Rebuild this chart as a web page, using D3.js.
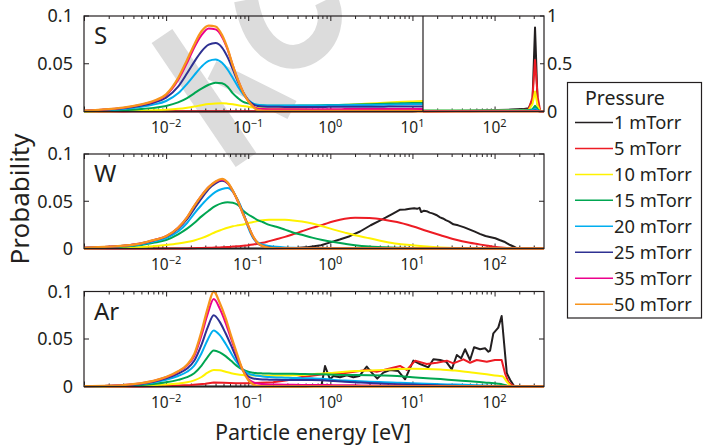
<!DOCTYPE html>
<html>
<head>
<meta charset="utf-8">
<script src="https://cdn.jsdelivr.net/npm/d3@7"></script>
<style>
  body { margin: 0; background: #fff; }
  text { font-family: "Noto Sans", sans-serif; fill: #231f20; }
</style>
</head>
<body>
<svg id="chart" width="703" height="446"></svg>
<script>
// ---- data ----
var pressures = ["1 mTorr", "5 mTorr", "10 mTorr", "15 mTorr", "20 mTorr", "25 mTorr", "35 mTorr", "50 mTorr"];
var colors    = ["#231f20", "#ed1c24", "#fff200", "#00a651", "#00aeef", "#2e3192", "#ec008c", "#f7941d"];
var panelNames = ["S", "W", "Ar"];
var xTickPowers = [-2, -1, 0, 1, 2];
var yTicks = [0, 0.05, 0.1];
var yTicksInset = [0, 0.5, 1];

// S (sputtered sulfur) energy grid, eV
var s_energy = [0.001, 0.002, 0.003, 0.005, 0.007, 0.01, 0.014, 0.018, 0.022, 0.027, 0.033, 0.04, 0.048, 0.056, 0.065, 0.075, 0.087, 0.1, 0.115, 0.13, 0.15, 0.18, 0.22, 0.28, 0.35, 0.45, 0.6, 0.8, 1.1, 1.5, 2, 3, 4.5, 6.5, 10, 15, 22, 33, 50, 75, 110, 160, 220, 260, 290, 311, 335, 360, 400];
var s_black   = [0, 0, 0, 0, 0, 0, 0, 0, 0, 0, 0, 0, 0, 0, 0, 0, 0, 0, 0, 0, 0, 0, 0, 0, 0, 0, 0, 0, 0, 0, 0, 0, 0, 0, 0, 0.002, 0.004, 0.006, 0.009, 0.012, 0.016, 0.02, 0.025, 0.035, 0.12, 0.88, 0.07, 0.002, 0];
var s_red     = [0, 0.0001, 0.0001, 0.0002, 0.0002, 0.0003, 0.0003, 0.0003, 0.0003, 0.0003, 0.0003, 0.0003, 0.0003, 0.0003, 0.0003, 0.0003, 0.0003, 0.0003, 0.0003, 0.0003, 0.0003, 0.0003, 0.0003, 0.0003, 0.0003, 0.0003, 0.0003, 0.0003, 0.0003, 0.0003, 0.0003, 0.0003, 0.0003, 0.0003, 0.0003, 0.0004, 0.001, 0.002, 0.003, 0.005, 0.008, 0.011, 0.015, 0.02, 0.15, 0.54, 0.15, 0.005, 0];
var s_yellow  = [0.0001, 0.0003, 0.0005, 0.0008, 0.0012, 0.0018, 0.0028, 0.004, 0.0052, 0.0066, 0.0078, 0.0085, 0.0086, 0.0082, 0.0075, 0.0066, 0.0058, 0.005, 0.0043, 0.0038, 0.0034, 0.003, 0.003, 0.0032, 0.0035, 0.004, 0.0046, 0.0053, 0.006, 0.0067, 0.0074, 0.0083, 0.0092, 0.0099, 0.0105, 0.011, 0.011, 0.011, 0.011, 0.011, 0.011, 0.012, 0.013, 0.015, 0.08, 0.21, 0.06, 0.002, 0];
var s_green   = [0.0003, 0.0009, 0.0014, 0.0026, 0.0038, 0.0058, 0.0095, 0.014, 0.019, 0.024, 0.028, 0.0302, 0.0295, 0.026, 0.019, 0.014, 0.010, 0.0085, 0.0075, 0.0068, 0.0063, 0.006, 0.006, 0.006, 0.0061, 0.0062, 0.0064, 0.0066, 0.0068, 0.007, 0.0073, 0.0077, 0.0081, 0.0085, 0.0089, 0.009, 0.009, 0.009, 0.009, 0.009, 0.009, 0.0095, 0.01, 0.012, 0.025, 0.06, 0.025, 0, 0];
var s_cyan    = [0.0006, 0.0017, 0.0027, 0.005, 0.0072, 0.011, 0.019, 0.029, 0.038, 0.047, 0.053, 0.0545, 0.051, 0.044, 0.035, 0.026, 0.018, 0.012, 0.0085, 0.007, 0.0065, 0.0063, 0.0062, 0.0062, 0.0062, 0.0062, 0.0063, 0.0064, 0.0065, 0.0066, 0.0067, 0.0069, 0.0071, 0.0073, 0.0075, 0.0076, 0.0076, 0.0076, 0.0076, 0.0076, 0.0076, 0.0078, 0.008, 0.009, 0.012, 0.03, 0.012, 0, 0];
var s_blue    = [0.0007, 0.0021, 0.0034, 0.0063, 0.0092, 0.0145, 0.026, 0.040, 0.052, 0.063, 0.070, 0.0718, 0.067, 0.057, 0.044, 0.031, 0.020, 0.012, 0.0075, 0.0058, 0.0052, 0.005, 0.0049, 0.0048, 0.0048, 0.0048, 0.0048, 0.0048, 0.0049, 0.0049, 0.005, 0.005, 0.0051, 0.0052, 0.0052, 0.0053, 0.0053, 0.0053, 0.0053, 0.0053, 0.0053, 0.0054, 0.0055, 0.0056, 0.006, 0.012, 0.006, 0, 0];
var s_magenta = [0.0008, 0.0024, 0.0038, 0.0072, 0.0105, 0.017, 0.033, 0.051, 0.067, 0.080, 0.087, 0.086, 0.078, 0.065, 0.048, 0.033, 0.020, 0.011, 0.0055, 0.003, 0.0025, 0.0024, 0.0024, 0.0024, 0.0024, 0.0024, 0.0024, 0.0024, 0.0024, 0.0025, 0.0025, 0.0025, 0.0025, 0.0025, 0.0025, 0.0025, 0.0025, 0.0025, 0.0025, 0.0025, 0.0025, 0.0025, 0.0025, 0.0025, 0.003, 0.006, 0.003, 0, 0];
var s_orange  = [0.0008, 0.0025, 0.004, 0.0075, 0.011, 0.018, 0.035, 0.054, 0.070, 0.084, 0.090, 0.089, 0.080, 0.066, 0.048, 0.033, 0.020, 0.011, 0.005, 0.0015, 0.0008, 0.0005, 0.0005, 0.0005, 0.0005, 0.0005, 0.0005, 0.0005, 0.0005, 0.0005, 0.0005, 0.0005, 0.0005, 0.0005, 0.0005, 0, 0, 0, 0, 0, 0, 0, 0, 0, 0, 0, 0, 0, 0];

// W energy grid, eV
var w_energy = [0.001, 0.002, 0.003, 0.005, 0.007, 0.01, 0.014, 0.018, 0.022, 0.027, 0.033, 0.04, 0.048, 0.056, 0.065, 0.075, 0.087, 0.1, 0.115, 0.13, 0.15, 0.18, 0.22, 0.28, 0.35, 0.45, 0.6, 0.8, 1.1, 1.5, 2, 3, 4.5, 6.5, 10, 15, 22, 33, 50, 75, 110, 160, 240, 400];
var w_black_energy = [0.001, 0.2, 0.35, 0.5, 0.77, 1.0, 1.3, 1.72, 2.3, 3.1, 3.9, 4.7, 5.8, 7.0, 8.2, 9.3, 10.5, 11.4, 12.2, 12.8, 13.8, 14.9, 16.2, 17.5, 19.5, 21.7, 23.5, 25.5, 28, 31.5, 36, 42.8, 50, 57.5, 66, 77.5, 90, 102, 115, 131, 142, 155, 178, 190, 400];
var w_black   = [0, 0, 0.0002, 0.0012, 0.0035, 0.0065, 0.0095, 0.013, 0.018, 0.0246, 0.029, 0.0326, 0.037, 0.041, 0.0412, 0.042, 0.0425, 0.042, 0.043, 0.0386, 0.040, 0.0395, 0.038, 0.0372, 0.0355, 0.033, 0.0318, 0.030, 0.0285, 0.0256, 0.0245, 0.0224, 0.020, 0.0178, 0.0155, 0.0132, 0.012, 0.0108, 0.009, 0.0072, 0.0055, 0.0037, 0.0013, 0, 0];
var w_red     = [0, 0, 0, 0, 0, 0, 0, 0.0001, 0.0003, 0.0005, 0.0007, 0.001, 0.0013, 0.0016, 0.002, 0.0024, 0.003, 0.0035, 0.0042, 0.005, 0.006, 0.0078, 0.0098, 0.0123, 0.015, 0.0182, 0.0218, 0.025, 0.0288, 0.0315, 0.0326, 0.0322, 0.0305, 0.028, 0.0235, 0.0185, 0.014, 0.0095, 0.006, 0.0035, 0.0013, 0.0003, 0, 0];
var w_yellow  = [0.0002, 0.0005, 0.0009, 0.0016, 0.0025, 0.0037, 0.0052, 0.0068, 0.0085, 0.011, 0.014, 0.0175, 0.020, 0.022, 0.0235, 0.0245, 0.0255, 0.027, 0.028, 0.029, 0.0298, 0.0303, 0.0305, 0.0303, 0.0297, 0.0285, 0.0265, 0.0235, 0.020, 0.0168, 0.014, 0.0108, 0.0075, 0.005, 0.0035, 0.002, 0.0011, 0.0005, 0.0002, 0.0001, 0, 0, 0, 0];
var w_green   = [0.0005, 0.0012, 0.002, 0.0037, 0.006, 0.009, 0.015, 0.021, 0.027, 0.034, 0.040, 0.045, 0.048, 0.049, 0.0485, 0.046, 0.040, 0.036, 0.033, 0.030, 0.028, 0.025, 0.023, 0.020, 0.017, 0.0145, 0.0115, 0.009, 0.0068, 0.005, 0.0035, 0.0021, 0.0013, 0.0008, 0.0004, 0.0002, 0.0001, 0, 0, 0, 0, 0, 0, 0];
var w_cyan    = [0.0006, 0.0016, 0.0026, 0.0046, 0.0072, 0.011, 0.018, 0.027, 0.037, 0.046, 0.054, 0.060, 0.063, 0.064, 0.060, 0.051, 0.038, 0.022, 0.011, 0.0065, 0.004, 0.0027, 0.0018, 0.0011, 0.0007, 0.0004, 0.0002, 0, 0, 0, 0, 0, 0, 0, 0, 0, 0, 0, 0, 0, 0, 0, 0, 0];
var w_blue    = [0.0007, 0.0018, 0.0029, 0.0053, 0.0085, 0.0125, 0.021, 0.031, 0.042, 0.053, 0.063, 0.069, 0.0716, 0.069, 0.061, 0.050, 0.037, 0.024, 0.012, 0.0055, 0.0025, 0.0012, 0.0006, 0.0003, 0, 0, 0, 0, 0, 0, 0, 0, 0, 0, 0, 0, 0, 0, 0, 0, 0, 0, 0, 0];
var w_magenta = [0.0007, 0.0019, 0.003, 0.0055, 0.0088, 0.013, 0.022, 0.033, 0.045, 0.056, 0.065, 0.0705, 0.0728, 0.0695, 0.0605, 0.0495, 0.0358, 0.0238, 0.0124, 0.006, 0.0025, 0.0006, 0.0001, 0, 0, 0, 0, 0, 0, 0, 0, 0, 0, 0, 0, 0, 0, 0, 0, 0, 0, 0, 0, 0];
var w_orange  = [0.0007, 0.0019, 0.003, 0.0055, 0.0088, 0.013, 0.022, 0.033, 0.045, 0.056, 0.065, 0.071, 0.0737, 0.070, 0.061, 0.050, 0.036, 0.024, 0.0125, 0.006, 0.0025, 0.0006, 0.0001, 0, 0, 0, 0, 0, 0, 0, 0, 0, 0, 0, 0, 0, 0, 0, 0, 0, 0, 0, 0, 0];

// Ar energy grid, eV
var ar_energy = [0.001, 0.002, 0.003, 0.005, 0.007, 0.01, 0.014, 0.018, 0.022, 0.027, 0.032, 0.038, 0.045, 0.053, 0.062, 0.072, 0.085, 0.1, 0.115, 0.13, 0.15, 0.18, 0.22, 0.28, 0.35, 0.45, 0.6, 0.8, 1.1, 1.5, 2, 3, 4.5, 6.5, 10, 15, 22, 33, 50, 75, 110, 125, 140, 160, 240, 400];
var ar_black_energy = [0.001, 0.5, 0.78, 0.862, 0.991, 1.088, 1.312, 1.585, 1.906, 2.255, 2.775, 3.19, 3.73, 4.42, 5.33, 6.73, 8.13, 10.26, 12.38, 15.63, 17.98, 21.7, 25.7, 30.1, 34.7, 39.1, 43.8, 50.3, 56.3, 66.6, 76.6, 84.1, 88.2, 96.7, 111, 122, 141, 155, 173, 190, 400];
var ar_black  = [0, 0, 0.001, 0.0216, 0.0076, 0.011, 0.0097, 0.0118, 0.0097, 0.011, 0.0209, 0.0146, 0.0083, 0.0146, 0.0174, 0.0163, 0.0076, 0.0272, 0.0237, 0.0202, 0.0286, 0.0279, 0.0261, 0.0181, 0.0332, 0.0297, 0.0392, 0.0279, 0.0413, 0.0392, 0.0402, 0.0366, 0.0377, 0.056, 0.062, 0.0742, 0.0139, 0.0068, 0.0005, 0, 0];
var ar_red_energy = [0.001, 0.005, 0.01, 0.02, 0.03, 0.038, 0.05, 0.07, 0.1, 0.2, 0.3, 0.43, 0.86, 1.44, 2.78, 3.67, 4.86, 7.06, 8.52, 10.8, 14.9, 19.8, 26.2, 31.5, 41.7, 50.3, 60.7, 80.4, 101, 122, 134, 147, 162, 175, 400];
var ar_red    = [0, 0.0001, 0.0004, 0.0015, 0.003, 0.0042, 0.004, 0.0035, 0.0035, 0.0045, 0.0065, 0.0097, 0.0132, 0.0139, 0.0174, 0.0156, 0.0181, 0.0216, 0.0174, 0.0272, 0.0237, 0.025, 0.0272, 0.0244, 0.0286, 0.025, 0.0279, 0.0261, 0.0279, 0.0279, 0.0139, 0.005, 0.0016, 0, 0];
var ar_yellow = [0, 0.0002, 0.0003, 0.0007, 0.0012, 0.002, 0.0032, 0.0045, 0.0065, 0.010, 0.0145, 0.0175, 0.017, 0.0155, 0.014, 0.013, 0.0122, 0.0118, 0.0116, 0.0115, 0.0114, 0.0113, 0.0113, 0.0115, 0.0118, 0.0121, 0.0128, 0.0138, 0.0146, 0.0155, 0.0162, 0.0168, 0.0175, 0.0183, 0.0188, 0.0185, 0.0178, 0.0168, 0.015, 0.0132, 0.0112, 0.0108, 0.0055, 0.0005, 0, 0];
var ar_green  = [0.0001, 0.0004, 0.0007, 0.0016, 0.0027, 0.0045, 0.007, 0.0098, 0.014, 0.022, 0.031, 0.038, 0.036, 0.032, 0.027, 0.022, 0.018, 0.0155, 0.0145, 0.014, 0.0138, 0.0136, 0.0135, 0.0134, 0.0133, 0.0132, 0.013, 0.0128, 0.0124, 0.0121, 0.012, 0.0118, 0.0115, 0.011, 0.0098, 0.0088, 0.0078, 0.0066, 0.0055, 0.0042, 0.003, 0.0022, 0.001, 0, 0, 0];
var ar_cyan   = [0.0002, 0.0006, 0.0011, 0.0025, 0.0042, 0.007, 0.011, 0.0155, 0.022, 0.035, 0.049, 0.059, 0.054, 0.045, 0.035, 0.026, 0.018, 0.0135, 0.012, 0.0112, 0.0105, 0.01, 0.0096, 0.0093, 0.009, 0.0088, 0.0086, 0.0082, 0.0069, 0.0062, 0.0057, 0.0051, 0.0045, 0.004, 0.0034, 0.0028, 0.0024, 0.002, 0.0015, 0.001, 0.0005, 0.0003, 0.0001, 0, 0, 0];
var ar_blue   = [0.0002, 0.0007, 0.0013, 0.003, 0.005, 0.0085, 0.0135, 0.019, 0.027, 0.044, 0.062, 0.075, 0.068, 0.056, 0.043, 0.030, 0.018, 0.0105, 0.0085, 0.0078, 0.0074, 0.0072, 0.007, 0.0069, 0.0068, 0.0068, 0.0068, 0.0066, 0.0058, 0.0051, 0.0045, 0.0036, 0.003, 0.0025, 0.002, 0.0015, 0.0011, 0.0007, 0.0004, 0.0002, 0.0001, 0, 0, 0, 0, 0];
var ar_magenta = [0.0003, 0.0008, 0.0015, 0.0035, 0.0058, 0.0097, 0.0155, 0.022, 0.032, 0.054, 0.076, 0.092, 0.082, 0.067, 0.050, 0.034, 0.018, 0.008, 0.0045, 0.0032, 0.0026, 0.0022, 0.002, 0.0019, 0.0018, 0.0017, 0.0016, 0.0015, 0.0014, 0.0013, 0.0012, 0.001, 0.0009, 0.0007, 0.0006, 0.0005, 0.0004, 0.0003, 0.0002, 0.0001, 0.0001, 0, 0, 0, 0, 0];
var ar_orange = [0.0003, 0.0008, 0.0015, 0.0036, 0.006, 0.010, 0.016, 0.023, 0.034, 0.058, 0.082, 0.100, 0.088, 0.072, 0.053, 0.036, 0.018, 0.0068, 0.0022, 0.0006, 0.0001, 0, 0, 0, 0, 0, 0, 0, 0, 0, 0, 0, 0, 0, 0, 0, 0, 0, 0, 0, 0, 0, 0, 0, 0, 0];

// ---- layout ----
var svg = d3.select("#chart");
var x = d3.scaleLog().domain([1e-3, 400]).range([84, 544]);
var xBreak = 423;   // left/right split of the S panel
var ink = "#231f20";

function zip(e, v) { return e.map(function (d, i) { return [d, v[i]]; }); }

var panels = [
  { top: 16, bottom: 111.5, series: [
      zip(s_energy, s_black), zip(s_energy, s_red), zip(s_energy, s_yellow), zip(s_energy, s_green),
      zip(s_energy, s_cyan), zip(s_energy, s_blue), zip(s_energy, s_magenta), zip(s_energy, s_orange)],
    jagged: [] },
  { top: 154, bottom: 248.5, series: [
      zip(w_black_energy, w_black), zip(w_energy, w_red), zip(w_energy, w_yellow), zip(w_energy, w_green),
      zip(w_energy, w_cyan), zip(w_energy, w_blue), zip(w_energy, w_magenta), zip(w_energy, w_orange)],
    jagged: [0] },
  { top: 291.5, bottom: 386.5, series: [
      zip(ar_black_energy, ar_black), zip(ar_red_energy, ar_red), zip(ar_energy, ar_yellow), zip(ar_energy, ar_green),
      zip(ar_energy, ar_cyan), zip(ar_energy, ar_blue), zip(ar_energy, ar_magenta), zip(ar_energy, ar_orange)],
    jagged: [0, 1] }
];

// faint grey watermark lying across the top panel
var wm = svg.append("g").attr("fill", "none").attr("stroke", "#d6d6d6").attr("opacity", 0.85);
wm.append("path").attr("d", "M162,36 L246,160").attr("stroke-width", 25);
wm.append("path").attr("d", "M212,70 L292,110").attr("stroke-width", 20);
wm.append("path").attr("d", "M246,0 C256,55 290,64 310,52 C330,40 334,16 326,0").attr("stroke-width", 24);

var majors = x.ticks().filter(function (d) { return Math.abs(Math.log10(d) - Math.round(Math.log10(d))) < 1e-9; });
var minors = x.ticks().filter(function (d) { return majors.indexOf(d) < 0; });
minors.push(200, 300);
minors = minors.filter(function (d, i, a) { return a.indexOf(d) === i && d < 400; });

function xTicks(g, yPos, inward) {
  var axis = inward > 0 ? d3.axisBottom : d3.axisTop;
  [[majors, 5], [minors, 3]].forEach(function (set) {
    g.append("g").attr("transform", "translate(0," + yPos + ")")
      .call(axis(x).tickValues(set[0]).tickSize(-set[1]).tickFormat(""))
      .call(function (a) { a.select(".domain").remove(); a.selectAll("line").attr("stroke", ink); });
  });
}

function expLabel(g, xp, yp, p) {
  var t = g.append("text").attr("x", xp).attr("y", yp).attr("text-anchor", "middle").style("font-size", "15.5px");
  t.append("tspan").text("10");
  t.append("tspan").attr("dy", -6.5).style("font-size", "11px").text(p < 0 ? "\u2212" + (-p) : String(p));
}

var line = d3.line().x(function (d) { return x(d[0]); });

panels.forEach(function (p, pi) {
  var g = svg.append("g");
  var y = d3.scaleLinear().domain([0, 0.1]).range([p.bottom, p.top]);

  // axes box and ticks
  xTicks(g, p.bottom, 1);
  xTicks(g, p.top, -1);
  var yRight = pi === 0 ? xBreak : 544;
  yTicks.forEach(function (v) {
    g.append("line").attr("x1", 84).attr("x2", 89).attr("y1", y(v)).attr("y2", y(v)).attr("stroke", ink);
    if (pi > 0) g.append("line").attr("x1", 539).attr("x2", 544).attr("y1", y(v)).attr("y2", y(v)).attr("stroke", ink);
    g.append("text").attr("x", 73).attr("y", y(v)).attr("dy", "0.36em").attr("text-anchor", "end")
      .style("font-size", "18px").text(v === 0 ? "0" : String(v));
  });
  xTickPowers.forEach(function (pw) { expLabel(g, x(Math.pow(10, pw)), p.bottom + 21.5, pw); });

  g.append("text").attr("x", 94).attr("y", p.top + 28).style("font-size", "24px").text(panelNames[pi]);

  // curves
  var clipId = "clip" + pi;
  var defs = svg.append("defs");
  defs.append("clipPath").attr("id", clipId).append("rect")
    .attr("x", 84).attr("y", p.top - 3).attr("width", yRight - 84).attr("height", p.bottom - p.top + 6);
  var cg = svg.append("g").attr("clip-path", "url(#" + clipId + ")");
  p.series.forEach(function (s, si) {
    var gen = line.y(function (d) { return y(d[1]); })
      .curve(p.jagged.indexOf(si) >= 0 ? d3.curveLinear : d3.curveMonotoneX);
    cg.append("path").attr("d", gen(s)).attr("fill", "none").attr("stroke", colors[si])
      .attr("stroke-width", si === 7 ? 2.3 : 2).attr("stroke-linejoin", "round");
  });

  // S panel: right part shares the energy axis, probability 0..1
  if (pi === 0) {
    var y2 = d3.scaleLinear().domain([0, 1]).range([p.bottom, p.top]);
    defs.append("clipPath").attr("id", "clipInset").append("rect")
      .attr("x", xBreak).attr("y", p.top - 3).attr("width", 544 - xBreak).attr("height", p.bottom - p.top + 6);
    var ig = svg.append("g").attr("clip-path", "url(#clipInset)");
    p.series.forEach(function (s, si) {
      var gen = line.y(function (d) { return y2(d[1]); }).curve(d3.curveLinear);
      ig.append("path").attr("d", gen(s)).attr("fill", "none").attr("stroke", colors[si])
        .attr("stroke-width", 2).attr("stroke-linejoin", "round");
    });
    yTicksInset.forEach(function (v) {
      svg.append("line").attr("x1", 540).attr("x2", 544).attr("y1", y2(v)).attr("y2", y2(v)).attr("stroke", ink);
      svg.append("text").attr("x", 547).attr("y", y2(v)).attr("dy", "0.36em")
        .style("font-size", "18px").text(String(v));
    });
    svg.append("line").attr("x1", xBreak).attr("x2", xBreak).attr("y1", p.top).attr("y2", p.bottom)
      .attr("stroke", ink).attr("stroke-width", 1.2);
  }

  svg.append("rect").attr("x", 84).attr("y", p.top).attr("width", 460).attr("height", p.bottom - p.top)
    .attr("fill", "none").attr("stroke", ink).attr("stroke-width", 1.2);
});

// axis titles
svg.append("text").attr("transform", "translate(29,199) rotate(-90)").attr("text-anchor", "middle")
  .style("font-size", "26px").text("Probability");
svg.append("text").attr("x", 313).attr("y", 440).attr("text-anchor", "middle")
  .style("font-size", "21.5px").text("Particle energy [eV]");

// legend
var lg = svg.append("g");
lg.append("rect").attr("x", 567.5).attr("y", 82.5).attr("width", 134).attr("height", 235.5)
  .attr("fill", "#fff").attr("stroke", ink).attr("stroke-width", 1.2);
lg.append("text").attr("x", 585).attr("y", 105).style("font-size", "19.5px").text("Pressure");
pressures.forEach(function (name, i) {
  var yy = 122.5 + i * 25.95;
  lg.append("line").attr("x1", 575).attr("x2", 613).attr("y1", yy).attr("y2", yy)
    .attr("stroke", colors[i]).attr("stroke-width", 1.5);
  lg.append("text").attr("x", 614).attr("y", yy + 6.5).style("font-size", "18.3px").text(name);
});
</script>
</body>
</html>
